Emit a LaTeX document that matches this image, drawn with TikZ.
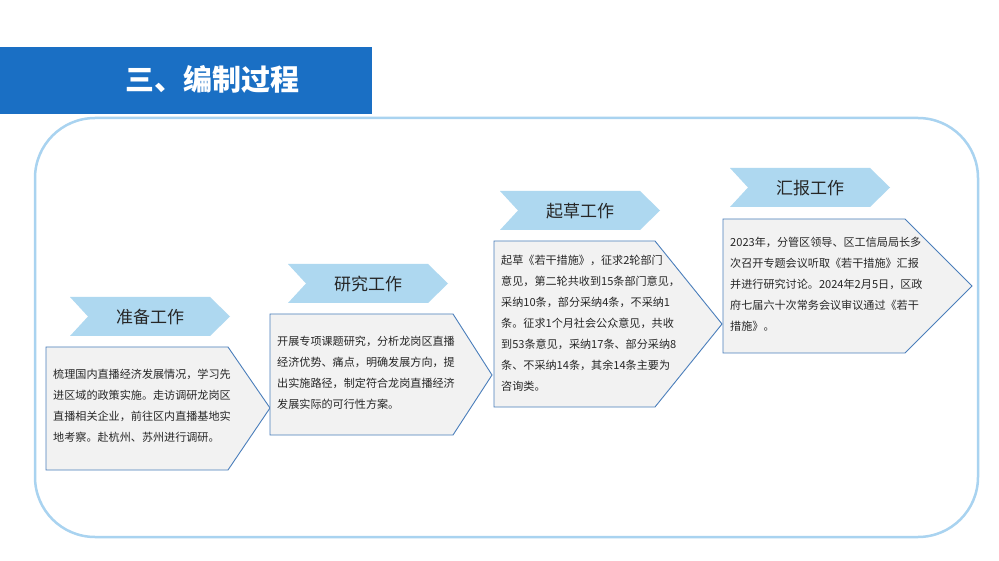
\documentclass[tikz,border=0pt]{standalone}
\usepackage{fontspec}
\setmainfont{Noto Sans CJK SC}
\begin{document}
\begin{tikzpicture}[x=1pt,y=-1pt,
  chev/.style={fill=chevblue,draw=none},
  penta/.style={fill=boxgray,draw=boxline,line width=0.9pt},
  ttl/.style={font=\fontsize{17}{20}\selectfont,text=black!85},
  body/.style={anchor=north west,align=left,inner sep=0pt,font=\fontsize{11.1}{21}\selectfont,text=black!85}]
\definecolor{chevblue}{HTML}{AED8F0}
\definecolor{boxgray}{HTML}{F2F2F2}
\definecolor{boxline}{HTML}{4A7EBB}
\definecolor{titleblue}{HTML}{1A6FC4}
\definecolor{frameblue}{HTML}{A9D3F0}
\useasboundingbox (0,0) rectangle (999,561);
\fill[white] (0,0) rectangle (999,561);
% frame
\draw[frameblue,line width=2.5pt,rounded corners=60pt] (35,118) rectangle (978,537);
% title
\fill[titleblue] (0,47) rectangle (372,114);
\node[text=white,font=\fontsize{29}{32}\selectfont\bfseries] (title) at (212,79) {三、编制过程};
% chevrons
\foreach \x/\y/\t/\n in {70/297/准备工作/c1,288/264/研究工作/c2,500/191/起草工作/c3,730/168/汇报工作/c4}{
  \fill[chev] (\x,\y) -- (\x+140,\y) -- (\x+160,\y+19.5) -- (\x+140,\y+39) -- (\x,\y+39) -- (\x+18,\y+19.5) -- cycle;
  \node[ttl] (\n) at (\x+80,\y+20) {\t};
}
% boxes
\draw[penta] (46,347) -- (228,347) -- (270,408) -- (228,470) -- (46,470) -- cycle;
\draw[penta] (270,314) -- (453,314) -- (492,375) -- (453,435) -- (270,435) -- cycle;
\draw[penta] (494,241) -- (655,241) -- (722,324) -- (655,407) -- (494,407) -- cycle;
\draw[penta] (723,219) -- (905,219) -- (972,286) -- (905,353) -- (723,353) -- cycle;
\node[body] (t1) at (53,369) {梳理国内直播经济发展情况，学习先\\进区域的政策实施。走访调研龙岗区\\直播相关企业，前往区内直播基地实\\地考察。赴杭州、苏州进行调研。};
\node[body] (t2) at (277,336) {开展专项课题研究，分析龙岗区直播\\经济优势、痛点，明确发展方向，提\\出实施路径，制定符合龙岗直播经济\\发展实际的可行性方案。};
\node[body] (t3) at (501,255) {起草《若干措施》，征求2轮部门\\意见，第二轮共收到15条部门意见，\\采纳10条，部分采纳4条，不采纳1\\条。征求1个月社会公众意见，共收\\到53条意见，采纳17条、部分采纳8\\条、不采纳14条，其余14条主要为\\咨询类。};
\node[body] (t4) at (730,237) {2023年，分管区领导、区工信局局长多\\次召开专题会议听取《若干措施》汇报\\并进行研究讨论。2024年2月5日，区政\\府七届六十次常务会议审议通过《若干\\措施》。};
\end{tikzpicture}
\end{document}
